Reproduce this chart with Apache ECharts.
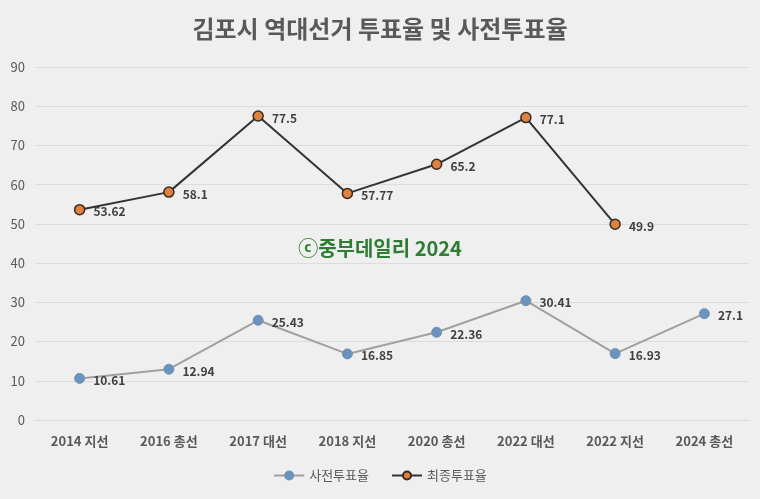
<!DOCTYPE html>
<html><head><meta charset="utf-8">
<script src="https://cdn.jsdelivr.net/npm/echarts@6/dist/echarts.min.js"></script>
<style>html,body{margin:0;padding:0;background:#efefef;}#c{width:760px;height:499px;}</style>
</head><body><div id="c"></div>
<script>
var categories = ['2014 지선','2016 총선','2017 대선','2018 지선','2020 총선','2022 대선','2022 지선','2024 총선'];
var earlyVote = [10.61,12.94,25.43,16.85,22.36,30.41,16.93,27.1];
var finalVote = [53.62,58.1,77.5,57.77,65.2,77.1,49.9,null];
var yTicks = {min:0,max:90,interval:10};
var font = '"Noto Sans CJK KR", "Noto Sans", sans-serif';
var chart = echarts.init(document.getElementById('c'));
var lbl = {show:true,position:'right',distance:8,offset:[0,2],fontFamily:font,fontSize:12,fontWeight:'bold',color:'#404040'};
chart.setOption({
  backgroundColor:'#efefef',
  animation:false,
  title:{text:'김포시 역대선거 투표율 및 사전투표율',left:'center',top:12,textStyle:{fontFamily:font,fontSize:24,fontWeight:'bold',color:'#595959'}},
  legend:{bottom:12,left:'center',itemGap:22,itemWidth:30,itemHeight:10,textStyle:{fontFamily:font,fontSize:13,color:'#595959'},data:['사전투표율','최종투표율']},
  grid:{left:35,right:11,top:67,bottom:79},
  xAxis:{type:'category',data:categories,boundaryGap:true,axisLine:{show:true,lineStyle:{color:'#d9d9d9'}},axisTick:{show:false},
    axisLabel:{fontFamily:font,fontSize:13,fontWeight:'bold',color:'#595959',margin:15}},
  yAxis:{type:'value',min:yTicks.min,max:yTicks.max,interval:yTicks.interval,axisLine:{show:false},axisTick:{show:false},
    splitLine:{lineStyle:{color:'#dcdcdc'}},axisLabel:{fontFamily:font,fontSize:13,color:'#595959',margin:10}},
  series:[
    {name:'사전투표율',type:'line',data:earlyVote,symbol:'circle',symbolSize:10,
      lineStyle:{color:'#a0a0a0',width:2},itemStyle:{color:'#6b93bb',borderColor:'#6b93bb',borderWidth:1},label:lbl},
    {name:'최종투표율',type:'line',data:finalVote,symbol:'circle',symbolSize:10,
      lineStyle:{color:'#333333',width:2},itemStyle:{color:'#e0823f',borderColor:'#3a2a20',borderWidth:1.5},label:lbl}
  ],
  graphic:[{type:'text',left:'center',top:238,style:{text:'ⓒ중부데일리 2024',fontFamily:font,fontSize:20,fontWeight:'bold',fill:'#2e7d32'}}]
});
</script></body></html>
